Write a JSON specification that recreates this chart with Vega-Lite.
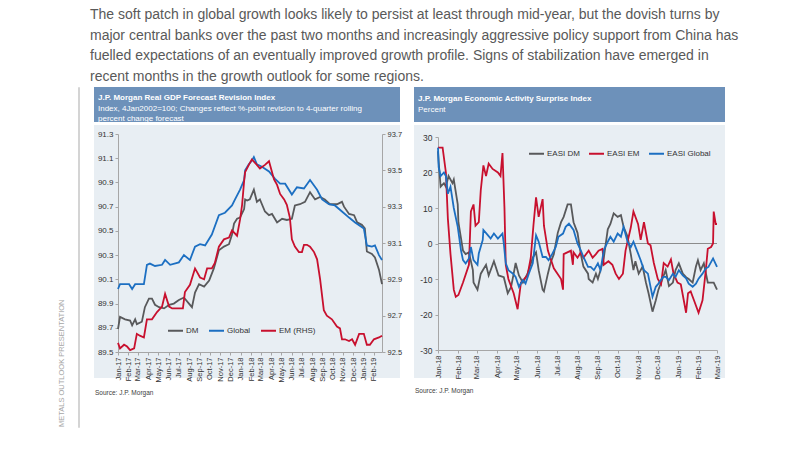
{
  "$schema": "https://vega.github.io/schema/vega-lite/v6.json",
  "background": "white",
  "padding": {"left": 57, "top": 7, "right": 0, "bottom": 0},
  "title": {
    "text": [
      "The soft patch in global growth looks likely to persist at least through mid-year, but the dovish turns by",
      "major central banks over the past two months and increasingly aggressive policy support from China has",
      "fuelled expectations of an eventually improved growth profile. Signs of stabilization have emerged in",
      "recent months in the growth outlook for some regions."
    ],
    "anchor": "start",
    "frame": "group",
    "dx": 12,
    "offset": 2,
    "font": "Liberation Sans",
    "fontSize": 14,
    "fontWeight": "normal",
    "color": "#595959",
    "lineHeight": 20.7
  },
  "datasets": {
    "gdp": [
      {"s":"DM","d":"2017-01-01","v":89.69},{"s":"DM","d":"2017-01-07","v":89.79},{"s":"DM","d":"2017-01-22","v":89.77},{"s":"DM","d":"2017-02-06","v":89.76},{"s":"DM","d":"2017-02-12","v":89.72},{"s":"DM","d":"2017-02-21","v":89.77},{"s":"DM","d":"2017-02-26","v":89.73},{"s":"DM","d":"2017-03-13","v":89.75},{"s":"DM","d":"2017-03-22","v":89.87},{"s":"DM","d":"2017-04-03","v":89.94},{"s":"DM","d":"2017-04-12","v":89.94},{"s":"DM","d":"2017-04-21","v":89.89},{"s":"DM","d":"2017-05-03","v":89.87},{"s":"DM","d":"2017-05-18","v":89.86},{"s":"DM","d":"2017-06-02","v":89.89},{"s":"DM","d":"2017-06-16","v":89.90},{"s":"DM","d":"2017-07-01","v":89.93},{"s":"DM","d":"2017-07-16","v":89.95},{"s":"DM","d":"2017-07-31","v":89.90},{"s":"DM","d":"2017-08-09","v":89.87},{"s":"DM","d":"2017-08-18","v":89.99},{"s":"DM","d":"2017-08-30","v":90.06},{"s":"DM","d":"2017-09-14","v":90.04},{"s":"DM","d":"2017-09-29","v":90.09},{"s":"DM","d":"2017-10-13","v":90.19},{"s":"DM","d":"2017-10-28","v":90.34},{"s":"DM","d":"2017-11-12","v":90.37},{"s":"DM","d":"2017-11-27","v":90.39},{"s":"DM","d":"2017-12-06","v":90.47},{"s":"DM","d":"2017-12-12","v":90.56},{"s":"DM","d":"2017-12-21","v":90.60},{"s":"DM","d":"2017-12-30","v":90.61},{"s":"DM","d":"2018-01-11","v":90.68},{"s":"DM","d":"2018-01-14","v":90.76},{"s":"DM","d":"2018-01-20","v":90.75},{"s":"DM","d":"2018-01-28","v":90.76},{"s":"DM","d":"2018-02-09","v":90.84},{"s":"DM","d":"2018-02-18","v":90.74},{"s":"DM","d":"2018-02-27","v":90.76},{"s":"DM","d":"2018-03-14","v":90.66},{"s":"DM","d":"2018-03-26","v":90.63},{"s":"DM","d":"2018-04-04","v":90.64},{"s":"DM","d":"2018-04-19","v":90.57},{"s":"DM","d":"2018-05-04","v":90.60},{"s":"DM","d":"2018-05-18","v":90.59},{"s":"DM","d":"2018-06-02","v":90.60},{"s":"DM","d":"2018-06-11","v":90.71},{"s":"DM","d":"2018-06-26","v":90.72},{"s":"DM","d":"2018-07-11","v":90.74},{"s":"DM","d":"2018-07-26","v":90.82},{"s":"DM","d":"2018-08-10","v":90.76},{"s":"DM","d":"2018-08-25","v":90.78},{"s":"DM","d":"2018-09-08","v":90.76},{"s":"DM","d":"2018-09-23","v":90.72},{"s":"DM","d":"2018-10-14","v":90.72},{"s":"DM","d":"2018-10-29","v":90.74},{"s":"DM","d":"2018-11-04","v":90.70},{"s":"DM","d":"2018-11-19","v":90.64},{"s":"DM","d":"2018-12-04","v":90.63},{"s":"DM","d":"2018-12-13","v":90.57},{"s":"DM","d":"2018-12-27","v":90.55},{"s":"DM","d":"2019-01-05","v":90.52},{"s":"DM","d":"2019-01-11","v":90.33},{"s":"DM","d":"2019-01-26","v":90.31},{"s":"DM","d":"2019-02-04","v":90.28},{"s":"DM","d":"2019-02-16","v":90.18},{"s":"DM","d":"2019-02-25","v":90.06},
      {"s":"Global","d":"2017-01-01","v":90.02},{"s":"Global","d":"2017-01-07","v":90.06},{"s":"Global","d":"2017-02-03","v":90.06},{"s":"Global","d":"2017-02-12","v":90.02},{"s":"Global","d":"2017-02-21","v":90.06},{"s":"Global","d":"2017-03-19","v":90.06},{"s":"Global","d":"2017-03-28","v":90.22},{"s":"Global","d":"2017-04-06","v":90.23},{"s":"Global","d":"2017-04-21","v":90.21},{"s":"Global","d":"2017-05-12","v":90.22},{"s":"Global","d":"2017-05-21","v":90.26},{"s":"Global","d":"2017-06-05","v":90.22},{"s":"Global","d":"2017-07-01","v":90.24},{"s":"Global","d":"2017-07-16","v":90.30},{"s":"Global","d":"2017-08-03","v":90.26},{"s":"Global","d":"2017-08-18","v":90.37},{"s":"Global","d":"2017-09-02","v":90.39},{"s":"Global","d":"2017-09-17","v":90.38},{"s":"Global","d":"2017-10-07","v":90.47},{"s":"Global","d":"2017-10-28","v":90.63},{"s":"Global","d":"2017-11-15","v":90.65},{"s":"Global","d":"2017-12-06","v":90.71},{"s":"Global","d":"2017-12-15","v":90.76},{"s":"Global","d":"2017-12-30","v":90.84},{"s":"Global","d":"2018-01-11","v":90.92},{"s":"Global","d":"2018-01-14","v":91.00},{"s":"Global","d":"2018-01-25","v":91.05},{"s":"Global","d":"2018-02-03","v":91.08},{"s":"Global","d":"2018-02-09","v":91.11},{"s":"Global","d":"2018-02-18","v":91.05},{"s":"Global","d":"2018-03-05","v":91.03},{"s":"Global","d":"2018-03-26","v":90.99},{"s":"Global","d":"2018-04-13","v":90.93},{"s":"Global","d":"2018-04-28","v":90.89},{"s":"Global","d":"2018-05-13","v":90.89},{"s":"Global","d":"2018-06-02","v":90.80},{"s":"Global","d":"2018-06-17","v":90.86},{"s":"Global","d":"2018-07-08","v":90.85},{"s":"Global","d":"2018-07-26","v":90.92},{"s":"Global","d":"2018-08-16","v":90.84},{"s":"Global","d":"2018-08-31","v":90.76},{"s":"Global","d":"2018-09-20","v":90.72},{"s":"Global","d":"2018-10-08","v":90.71},{"s":"Global","d":"2018-10-29","v":90.66},{"s":"Global","d":"2018-11-19","v":90.61},{"s":"Global","d":"2018-12-07","v":90.57},{"s":"Global","d":"2019-01-02","v":90.52},{"s":"Global","d":"2019-01-11","v":90.38},{"s":"Global","d":"2019-01-26","v":90.37},{"s":"Global","d":"2019-02-04","v":90.38},{"s":"Global","d":"2019-02-16","v":90.30},{"s":"Global","d":"2019-02-25","v":90.26},
      {"s":"EM (RHS)","d":"2017-01-01","v":92.55},{"s":"EM (RHS)","d":"2017-01-07","v":92.52},{"s":"EM (RHS)","d":"2017-01-19","v":92.54},{"s":"EM (RHS)","d":"2017-01-28","v":92.53},{"s":"EM (RHS)","d":"2017-02-06","v":92.51},{"s":"EM (RHS)","d":"2017-02-18","v":92.52},{"s":"EM (RHS)","d":"2017-02-26","v":92.60},{"s":"EM (RHS)","d":"2017-03-07","v":92.59},{"s":"EM (RHS)","d":"2017-03-19","v":92.58},{"s":"EM (RHS)","d":"2017-03-28","v":92.68},{"s":"EM (RHS)","d":"2017-04-12","v":92.68},{"s":"EM (RHS)","d":"2017-04-27","v":92.72},{"s":"EM (RHS)","d":"2017-05-12","v":92.75},{"s":"EM (RHS)","d":"2017-05-21","v":92.82},{"s":"EM (RHS)","d":"2017-06-02","v":92.75},{"s":"EM (RHS)","d":"2017-06-11","v":92.74},{"s":"EM (RHS)","d":"2017-07-01","v":92.74},{"s":"EM (RHS)","d":"2017-07-13","v":92.74},{"s":"EM (RHS)","d":"2017-07-19","v":92.83},{"s":"EM (RHS)","d":"2017-08-03","v":92.87},{"s":"EM (RHS)","d":"2017-08-18","v":92.96},{"s":"EM (RHS)","d":"2017-09-02","v":92.91},{"s":"EM (RHS)","d":"2017-09-14","v":92.90},{"s":"EM (RHS)","d":"2017-09-23","v":92.96},{"s":"EM (RHS)","d":"2017-10-07","v":92.96},{"s":"EM (RHS)","d":"2017-10-16","v":92.99},{"s":"EM (RHS)","d":"2017-10-28","v":93.08},{"s":"EM (RHS)","d":"2017-11-12","v":93.12},{"s":"EM (RHS)","d":"2017-11-27","v":93.13},{"s":"EM (RHS)","d":"2017-12-06","v":93.17},{"s":"EM (RHS)","d":"2017-12-21","v":93.14},{"s":"EM (RHS)","d":"2017-12-30","v":93.23},{"s":"EM (RHS)","d":"2018-01-05","v":93.31},{"s":"EM (RHS)","d":"2018-01-11","v":93.44},{"s":"EM (RHS)","d":"2018-01-14","v":93.49},{"s":"EM (RHS)","d":"2018-01-25","v":93.53},{"s":"EM (RHS)","d":"2018-02-03","v":93.56},{"s":"EM (RHS)","d":"2018-02-18","v":93.53},{"s":"EM (RHS)","d":"2018-02-27","v":93.51},{"s":"EM (RHS)","d":"2018-03-14","v":93.53},{"s":"EM (RHS)","d":"2018-03-26","v":93.55},{"s":"EM (RHS)","d":"2018-04-10","v":93.45},{"s":"EM (RHS)","d":"2018-04-19","v":93.42},{"s":"EM (RHS)","d":"2018-04-28","v":93.37},{"s":"EM (RHS)","d":"2018-05-10","v":93.34},{"s":"EM (RHS)","d":"2018-05-18","v":93.31},{"s":"EM (RHS)","d":"2018-05-27","v":93.24},{"s":"EM (RHS)","d":"2018-06-02","v":93.12},{"s":"EM (RHS)","d":"2018-06-11","v":93.08},{"s":"EM (RHS)","d":"2018-06-23","v":93.05},{"s":"EM (RHS)","d":"2018-07-02","v":93.05},{"s":"EM (RHS)","d":"2018-07-08","v":93.09},{"s":"EM (RHS)","d":"2018-07-17","v":93.09},{"s":"EM (RHS)","d":"2018-07-26","v":93.08},{"s":"EM (RHS)","d":"2018-08-07","v":93.05},{"s":"EM (RHS)","d":"2018-08-16","v":93.01},{"s":"EM (RHS)","d":"2018-08-25","v":92.90},{"s":"EM (RHS)","d":"2018-09-05","v":92.73},{"s":"EM (RHS)","d":"2018-09-14","v":92.70},{"s":"EM (RHS)","d":"2018-09-29","v":92.68},{"s":"EM (RHS)","d":"2018-10-14","v":92.64},{"s":"EM (RHS)","d":"2018-10-23","v":92.63},{"s":"EM (RHS)","d":"2018-10-29","v":92.57},{"s":"EM (RHS)","d":"2018-11-07","v":92.57},{"s":"EM (RHS)","d":"2018-11-19","v":92.56},{"s":"EM (RHS)","d":"2018-11-28","v":92.57},{"s":"EM (RHS)","d":"2018-12-07","v":92.54},{"s":"EM (RHS)","d":"2018-12-19","v":92.60},{"s":"EM (RHS)","d":"2019-01-02","v":92.60},{"s":"EM (RHS)","d":"2019-01-11","v":92.54},{"s":"EM (RHS)","d":"2019-01-20","v":92.54},{"s":"EM (RHS)","d":"2019-02-01","v":92.57},{"s":"EM (RHS)","d":"2019-02-16","v":92.58},{"s":"EM (RHS)","d":"2019-02-25","v":92.59}
    ],
    "easi": [
      {"s":"EASI DM","d":"2018-01-01","v":26},{"s":"EASI DM","d":"2018-01-02","v":23},{"s":"EASI DM","d":"2018-01-05","v":16},{"s":"EASI DM","d":"2018-01-10","v":17},{"s":"EASI DM","d":"2018-01-13","v":16},{"s":"EASI DM","d":"2018-01-17","v":19},{"s":"EASI DM","d":"2018-01-23","v":17},{"s":"EASI DM","d":"2018-01-25","v":18},{"s":"EASI DM","d":"2018-01-31","v":11},{"s":"EASI DM","d":"2018-02-01","v":6},{"s":"EASI DM","d":"2018-02-08","v":-2},{"s":"EASI DM","d":"2018-02-12","v":-3},{"s":"EASI DM","d":"2018-02-17","v":-2.5},{"s":"EASI DM","d":"2018-02-23","v":-7.5},{"s":"EASI DM","d":"2018-02-24","v":-11},{"s":"EASI DM","d":"2018-03-02","v":-13},{"s":"EASI DM","d":"2018-03-07","v":-8.5},{"s":"EASI DM","d":"2018-03-15","v":-6},{"s":"EASI DM","d":"2018-03-19","v":-9},{"s":"EASI DM","d":"2018-03-27","v":-5},{"s":"EASI DM","d":"2018-04-03","v":-9},{"s":"EASI DM","d":"2018-04-11","v":-9.5},{"s":"EASI DM","d":"2018-04-17","v":-14},{"s":"EASI DM","d":"2018-04-22","v":-12.3},{"s":"EASI DM","d":"2018-04-26","v":-8.5},{"s":"EASI DM","d":"2018-04-29","v":-5.5},{"s":"EASI DM","d":"2018-05-04","v":-9},{"s":"EASI DM","d":"2018-05-10","v":-11},{"s":"EASI DM","d":"2018-05-17","v":-8.5},{"s":"EASI DM","d":"2018-05-25","v":-4},{"s":"EASI DM","d":"2018-05-30","v":-2.5},{"s":"EASI DM","d":"2018-06-03","v":-7.5},{"s":"EASI DM","d":"2018-06-09","v":-13},{"s":"EASI DM","d":"2018-06-11","v":-13.5},{"s":"EASI DM","d":"2018-06-17","v":-8.5},{"s":"EASI DM","d":"2018-06-21","v":-5.5},{"s":"EASI DM","d":"2018-06-26","v":-3},{"s":"EASI DM","d":"2018-07-02","v":3},{"s":"EASI DM","d":"2018-07-07","v":6},{"s":"EASI DM","d":"2018-07-11","v":7.5},{"s":"EASI DM","d":"2018-07-17","v":11},{"s":"EASI DM","d":"2018-07-22","v":11},{"s":"EASI DM","d":"2018-07-26","v":6},{"s":"EASI DM","d":"2018-08-01","v":3},{"s":"EASI DM","d":"2018-08-06","v":-3},{"s":"EASI DM","d":"2018-08-10","v":-6.5},{"s":"EASI DM","d":"2018-08-17","v":-8.5},{"s":"EASI DM","d":"2018-08-18","v":-10},{"s":"EASI DM","d":"2018-08-24","v":-11},{"s":"EASI DM","d":"2018-08-29","v":-8.5},{"s":"EASI DM","d":"2018-09-01","v":-10},{"s":"EASI DM","d":"2018-09-05","v":-7.5},{"s":"EASI DM","d":"2018-09-10","v":-4},{"s":"EASI DM","d":"2018-09-16","v":4},{"s":"EASI DM","d":"2018-09-20","v":5.5},{"s":"EASI DM","d":"2018-09-25","v":8.5},{"s":"EASI DM","d":"2018-10-01","v":7.5},{"s":"EASI DM","d":"2018-10-06","v":8},{"s":"EASI DM","d":"2018-10-10","v":4.7},{"s":"EASI DM","d":"2018-10-16","v":2},{"s":"EASI DM","d":"2018-10-21","v":-3},{"s":"EASI DM","d":"2018-10-25","v":-7.5},{"s":"EASI DM","d":"2018-10-28","v":-5},{"s":"EASI DM","d":"2018-11-02","v":-8.5},{"s":"EASI DM","d":"2018-11-08","v":-6.5},{"s":"EASI DM","d":"2018-11-13","v":-11},{"s":"EASI DM","d":"2018-11-17","v":-14},{"s":"EASI DM","d":"2018-11-23","v":-19.2},{"s":"EASI DM","d":"2018-11-28","v":-16},{"s":"EASI DM","d":"2018-12-02","v":-13},{"s":"EASI DM","d":"2018-12-09","v":-9.5},{"s":"EASI DM","d":"2018-12-13","v":-7.5},{"s":"EASI DM","d":"2018-12-18","v":-12},{"s":"EASI DM","d":"2018-12-24","v":-11},{"s":"EASI DM","d":"2018-12-28","v":-7.5},{"s":"EASI DM","d":"2019-01-02","v":-5.6},{"s":"EASI DM","d":"2019-01-08","v":-8.5},{"s":"EASI DM","d":"2019-01-13","v":-9.5},{"s":"EASI DM","d":"2019-01-17","v":-10},{"s":"EASI DM","d":"2019-01-23","v":-11},{"s":"EASI DM","d":"2019-01-28","v":-6.5},{"s":"EASI DM","d":"2019-01-31","v":-4.7},{"s":"EASI DM","d":"2019-02-04","v":-7.5},{"s":"EASI DM","d":"2019-02-09","v":-5.6},{"s":"EASI DM","d":"2019-02-15","v":-11},{"s":"EASI DM","d":"2019-02-20","v":-11},{"s":"EASI DM","d":"2019-02-24","v":-11},{"s":"EASI DM","d":"2019-03-01","v":-13},
      {"s":"EASI EM","d":"2018-01-01","v":27},{"s":"EASI EM","d":"2018-01-08","v":27},{"s":"EASI EM","d":"2018-01-13","v":20},{"s":"EASI EM","d":"2018-01-16","v":7},{"s":"EASI EM","d":"2018-01-20","v":-3},{"s":"EASI EM","d":"2018-01-25","v":-13},{"s":"EASI EM","d":"2018-01-28","v":-15},{"s":"EASI EM","d":"2018-02-01","v":-14.5},{"s":"EASI EM","d":"2018-02-08","v":-11},{"s":"EASI EM","d":"2018-02-17","v":-6},{"s":"EASI EM","d":"2018-02-20","v":9},{"s":"EASI EM","d":"2018-02-24","v":11},{"s":"EASI EM","d":"2018-02-27","v":5},{"s":"EASI EM","d":"2018-03-04","v":6},{"s":"EASI EM","d":"2018-03-07","v":15},{"s":"EASI EM","d":"2018-03-11","v":22},{"s":"EASI EM","d":"2018-03-15","v":19},{"s":"EASI EM","d":"2018-03-19","v":22.5},{"s":"EASI EM","d":"2018-03-25","v":21},{"s":"EASI EM","d":"2018-04-02","v":20},{"s":"EASI EM","d":"2018-04-06","v":19},{"s":"EASI EM","d":"2018-04-09","v":25.5},{"s":"EASI EM","d":"2018-04-12","v":10},{"s":"EASI EM","d":"2018-04-14","v":-6},{"s":"EASI EM","d":"2018-04-18","v":-10},{"s":"EASI EM","d":"2018-04-26","v":-14},{"s":"EASI EM","d":"2018-05-02","v":-18.5},{"s":"EASI EM","d":"2018-05-07","v":-11},{"s":"EASI EM","d":"2018-05-17","v":-9},{"s":"EASI EM","d":"2018-05-22","v":-4},{"s":"EASI EM","d":"2018-05-26","v":5},{"s":"EASI EM","d":"2018-05-30","v":13},{"s":"EASI EM","d":"2018-06-03","v":7.5},{"s":"EASI EM","d":"2018-06-09","v":12.5},{"s":"EASI EM","d":"2018-06-11","v":5},{"s":"EASI EM","d":"2018-06-17","v":-2},{"s":"EASI EM","d":"2018-06-26","v":-7},{"s":"EASI EM","d":"2018-07-07","v":-10},{"s":"EASI EM","d":"2018-07-10","v":-13},{"s":"EASI EM","d":"2018-07-11","v":-3},{"s":"EASI EM","d":"2018-07-22","v":-2},{"s":"EASI EM","d":"2018-07-25","v":-6},{"s":"EASI EM","d":"2018-07-26","v":-2.5},{"s":"EASI EM","d":"2018-08-01","v":-4},{"s":"EASI EM","d":"2018-08-06","v":-2.5},{"s":"EASI EM","d":"2018-08-10","v":-4},{"s":"EASI EM","d":"2018-08-18","v":-2},{"s":"EASI EM","d":"2018-08-24","v":-4},{"s":"EASI EM","d":"2018-08-29","v":-3},{"s":"EASI EM","d":"2018-09-02","v":-2},{"s":"EASI EM","d":"2018-09-08","v":-1.5},{"s":"EASI EM","d":"2018-09-10","v":-6},{"s":"EASI EM","d":"2018-09-17","v":-5},{"s":"EASI EM","d":"2018-09-23","v":-6},{"s":"EASI EM","d":"2018-09-28","v":-8.5},{"s":"EASI EM","d":"2018-10-03","v":-10},{"s":"EASI EM","d":"2018-10-09","v":-8.5},{"s":"EASI EM","d":"2018-10-13","v":-2},{"s":"EASI EM","d":"2018-10-21","v":4.5},{"s":"EASI EM","d":"2018-10-25","v":9},{"s":"EASI EM","d":"2018-11-01","v":5.5},{"s":"EASI EM","d":"2018-11-05","v":1},{"s":"EASI EM","d":"2018-11-10","v":6},{"s":"EASI EM","d":"2018-11-16","v":0},{"s":"EASI EM","d":"2018-11-20","v":-0.5},{"s":"EASI EM","d":"2018-11-25","v":-5.5},{"s":"EASI EM","d":"2018-12-01","v":-10},{"s":"EASI EM","d":"2018-12-06","v":-11.5},{"s":"EASI EM","d":"2018-12-10","v":-5.5},{"s":"EASI EM","d":"2018-12-16","v":-6.5},{"s":"EASI EM","d":"2018-12-21","v":-4.5},{"s":"EASI EM","d":"2018-12-25","v":-8.5},{"s":"EASI EM","d":"2018-12-31","v":-11},{"s":"EASI EM","d":"2019-01-05","v":-11.5},{"s":"EASI EM","d":"2019-01-13","v":-19.5},{"s":"EASI EM","d":"2019-01-16","v":-14},{"s":"EASI EM","d":"2019-01-20","v":-13.5},{"s":"EASI EM","d":"2019-01-25","v":-16},{"s":"EASI EM","d":"2019-02-01","v":-19.5},{"s":"EASI EM","d":"2019-02-07","v":-16},{"s":"EASI EM","d":"2019-02-12","v":-7.5},{"s":"EASI EM","d":"2019-02-15","v":-1.5},{"s":"EASI EM","d":"2019-02-20","v":-1},{"s":"EASI EM","d":"2019-02-23","v":0},{"s":"EASI EM","d":"2019-02-24","v":9},{"s":"EASI EM","d":"2019-02-27","v":5.5},{"s":"EASI EM","d":"2019-03-01","v":5.5},
      {"s":"EASI Global","d":"2018-01-01","v":27},{"s":"EASI Global","d":"2018-01-02","v":21.5},{"s":"EASI Global","d":"2018-01-05","v":19},{"s":"EASI Global","d":"2018-01-10","v":20},{"s":"EASI Global","d":"2018-01-13","v":19},{"s":"EASI Global","d":"2018-01-16","v":14},{"s":"EASI Global","d":"2018-01-20","v":16},{"s":"EASI Global","d":"2018-01-25","v":10},{"s":"EASI Global","d":"2018-01-31","v":4.7},{"s":"EASI Global","d":"2018-02-05","v":-2},{"s":"EASI Global","d":"2018-02-08","v":-4.7},{"s":"EASI Global","d":"2018-02-12","v":-5.6},{"s":"EASI Global","d":"2018-02-17","v":-4.2},{"s":"EASI Global","d":"2018-02-20","v":-1},{"s":"EASI Global","d":"2018-02-24","v":-4.7},{"s":"EASI Global","d":"2018-03-02","v":-6},{"s":"EASI Global","d":"2018-03-04","v":-2.8},{"s":"EASI Global","d":"2018-03-10","v":1},{"s":"EASI Global","d":"2018-03-11","v":3.8},{"s":"EASI Global","d":"2018-03-18","v":2.3},{"s":"EASI Global","d":"2018-03-22","v":1.4},{"s":"EASI Global","d":"2018-03-27","v":2.8},{"s":"EASI Global","d":"2018-04-02","v":1.4},{"s":"EASI Global","d":"2018-04-09","v":2.8},{"s":"EASI Global","d":"2018-04-11","v":0},{"s":"EASI Global","d":"2018-04-14","v":-5.6},{"s":"EASI Global","d":"2018-04-18","v":-7.5},{"s":"EASI Global","d":"2018-04-25","v":-8.5},{"s":"EASI Global","d":"2018-04-29","v":-9.4},{"s":"EASI Global","d":"2018-05-04","v":-12.2},{"s":"EASI Global","d":"2018-05-10","v":-10.3},{"s":"EASI Global","d":"2018-05-14","v":-11.3},{"s":"EASI Global","d":"2018-05-19","v":-8.5},{"s":"EASI Global","d":"2018-05-25","v":-5.6},{"s":"EASI Global","d":"2018-05-30","v":2.3},{"s":"EASI Global","d":"2018-06-03","v":0.5},{"s":"EASI Global","d":"2018-06-09","v":-3.8},{"s":"EASI Global","d":"2018-06-14","v":-3.8},{"s":"EASI Global","d":"2018-06-18","v":-4.7},{"s":"EASI Global","d":"2018-06-24","v":-2.8},{"s":"EASI Global","d":"2018-06-29","v":-1},{"s":"EASI Global","d":"2018-07-03","v":1.9},{"s":"EASI Global","d":"2018-07-10","v":2.8},{"s":"EASI Global","d":"2018-07-14","v":4.7},{"s":"EASI Global","d":"2018-07-19","v":5.6},{"s":"EASI Global","d":"2018-07-26","v":3.8},{"s":"EASI Global","d":"2018-08-01","v":0},{"s":"EASI Global","d":"2018-08-06","v":-1.9},{"s":"EASI Global","d":"2018-08-10","v":-3.8},{"s":"EASI Global","d":"2018-08-17","v":-6.6},{"s":"EASI Global","d":"2018-08-21","v":-6.6},{"s":"EASI Global","d":"2018-08-26","v":-7.5},{"s":"EASI Global","d":"2018-09-01","v":-5.6},{"s":"EASI Global","d":"2018-09-05","v":-7.5},{"s":"EASI Global","d":"2018-09-10","v":-1.9},{"s":"EASI Global","d":"2018-09-16","v":0.5},{"s":"EASI Global","d":"2018-09-20","v":1.9},{"s":"EASI Global","d":"2018-09-25","v":0.5},{"s":"EASI Global","d":"2018-10-01","v":2.8},{"s":"EASI Global","d":"2018-10-06","v":1.9},{"s":"EASI Global","d":"2018-10-10","v":4.7},{"s":"EASI Global","d":"2018-10-16","v":0.5},{"s":"EASI Global","d":"2018-10-21","v":-1},{"s":"EASI Global","d":"2018-10-25","v":0.5},{"s":"EASI Global","d":"2018-11-01","v":-2.8},{"s":"EASI Global","d":"2018-11-05","v":-4.7},{"s":"EASI Global","d":"2018-11-10","v":-7.5},{"s":"EASI Global","d":"2018-11-16","v":-8.5},{"s":"EASI Global","d":"2018-11-20","v":-12.2},{"s":"EASI Global","d":"2018-11-23","v":-15},{"s":"EASI Global","d":"2018-11-28","v":-12.2},{"s":"EASI Global","d":"2018-12-02","v":-11.3},{"s":"EASI Global","d":"2018-12-09","v":-9.4},{"s":"EASI Global","d":"2018-12-13","v":-9.4},{"s":"EASI Global","d":"2018-12-18","v":-10.3},{"s":"EASI Global","d":"2018-12-24","v":-8.5},{"s":"EASI Global","d":"2018-12-28","v":-9.4},{"s":"EASI Global","d":"2019-01-02","v":-7.5},{"s":"EASI Global","d":"2019-01-08","v":-9},{"s":"EASI Global","d":"2019-01-13","v":-9.8},{"s":"EASI Global","d":"2019-01-17","v":-11.3},{"s":"EASI Global","d":"2019-01-23","v":-12.2},{"s":"EASI Global","d":"2019-01-28","v":-11.3},{"s":"EASI Global","d":"2019-02-01","v":-9.9},{"s":"EASI Global","d":"2019-02-07","v":-8.5},{"s":"EASI Global","d":"2019-02-12","v":-7},{"s":"EASI Global","d":"2019-02-16","v":-6.6},{"s":"EASI Global","d":"2019-02-23","v":-4.2},{"s":"EASI Global","d":"2019-03-01","v":-6.6}
    ]
  },
  "hconcat": [
    {
      "width": 1,
      "height": 340,
      "view": {"stroke": "#d4d4d4", "strokeWidth": 1, "fill": null},
      "title": {"text": "METALS OUTLOOK PRESENTATION", "orient": "left", "anchor": "start", "frame": "group", "offset": 12, "fontSize": 7.5, "fontWeight": "normal", "color": "#a6a6a6", "font": "Liberation Sans"},
      "data": {"values": [{"a": 1}]},
      "mark": {"type": "rule", "strokeOpacity": 0},
      "encoding": {}
    },
    {
      "spacing": 11,
      "resolve": {"scale": {"color": "independent"}, "legend": {"color": "independent"}},
      "hconcat": [
        {
          "spacing": 3,
          "bounds": "flush",
          "vconcat": [
            {
              "width": 306,
              "height": 35,
              "view": {"fill": "#6d91ba", "stroke": null},
              "title": {
                "text": "J.P. Morgan Real GDP Forecast Revision Index",
                "subtitle": ["Index, 4Jan2002=100; Changes reflect %-point revision to 4-quarter rolling", "percent change forecast"],
                "anchor": "start", "frame": "group", "orient": "top", "offset": -36, "dx": 4,
                "font": "Liberation Sans", "fontSize": 8, "fontWeight": "bold", "color": "#ffffff",
                "subtitleFont": "Liberation Sans", "subtitleFontSize": 8, "subtitleColor": "#ffffff", "subtitleLineHeight": 9.5, "subtitlePadding": 3
              },
              "data": {"values": [{"a": 1}]},
              "mark": {"type": "rule", "strokeOpacity": 0},
              "encoding": {}
            },
            {
              "width": 306,
              "height": 253,
              "view": {"fill": "#e8eef3", "stroke": null},
              "title": {"text": "Source: J.P. Morgan", "orient": "bottom", "anchor": "start", "frame": "group", "offset": 8, "dx": 1, "font": "Liberation Sans", "fontSize": 6.5, "fontWeight": "normal", "color": "#404040"},
              "data": {"name": "gdp"},
              "encoding": {
                "x": {
                  "field": "d", "type": "temporal",
                  "scale": {"domain": [{"year": 2017, "month": 1, "date": 1}, {"year": 2019, "month": 2, "date": 25}], "range": [24, 288]},
                  "axis": {"orient": "bottom", "offset": -26, "format": "%b-%y", "tickCount": {"interval": "month", "step": 1}, "labelAngle": -90, "labelFontSize": 7.5, "labelColor": "#333333", "labelPadding": 2, "labelOverlap": false, "labelFlush": false, "tickSize": 3, "tickColor": "#a6a6a6", "domainColor": "#a6a6a6", "grid": false, "title": null}
                },
                "color": {
                  "field": "s", "type": "nominal",
                  "scale": {"domain": ["DM", "Global", "EM (RHS)"], "range": ["#58595b", "#1c6fc2", "#c8102e"]},
                  "legend": {"orient": "none", "legendX": 73, "legendY": 235, "direction": "horizontal", "title": null, "symbolType": "stroke", "symbolSize": 225, "symbolStrokeWidth": 2, "labelFontSize": 8, "labelColor": "#333333", "labelFont": "Liberation Sans", "columnPadding": 6, "labelOffset": 2}
                }
              },
              "layer": [
                {
                  "transform": [{"filter": "datum.s != 'EM (RHS)'"}],
                  "mark": {"type": "line", "strokeWidth": 1.8},
                  "encoding": {
                    "y": {
                      "field": "v", "type": "quantitative",
                      "scale": {"domain": [89.5, 91.3], "range": [227, 9], "nice": false, "zero": false},
                      "axis": {"orient": "left", "offset": -24, "values": [89.5, 89.7, 89.9, 90.1, 90.3, 90.5, 90.7, 90.9, 91.1, 91.3], "format": ".1f", "labelFontSize": 8, "labelColor": "#333333", "labelPadding": 2, "tickSize": 3, "tickColor": "#a6a6a6", "domainColor": "#a6a6a6", "grid": false, "title": null}
                    }
                  }
                },
                {
                  "transform": [{"filter": "datum.s == 'EM (RHS)'"}],
                  "mark": {"type": "line", "strokeWidth": 1.8},
                  "encoding": {
                    "y": {
                      "field": "v", "type": "quantitative",
                      "scale": {"domain": [92.5, 93.7], "range": [227, 9], "nice": false, "zero": false},
                      "axis": {"orient": "right", "offset": -18, "values": [92.5, 92.7, 92.9, 93.1, 93.3, 93.5, 93.7], "format": ".1f", "labelFontSize": 7.5, "labelColor": "#333333", "labelPadding": 2, "tickSize": 3, "tickColor": "#a6a6a6", "domainColor": "#a6a6a6", "grid": false, "title": null}
                    }
                  }
                }
              ],
              "resolve": {"scale": {"y": "independent"}}
            }
          ]
        },
        {
          "spacing": 3,
          "bounds": "flush",
          "vconcat": [
            {
              "width": 311,
              "height": 35,
              "view": {"fill": "#6d91ba", "stroke": null},
              "title": {
                "text": "J.P. Morgan Economic Activity Surprise Index",
                "subtitle": ["Percent"],
                "anchor": "start", "frame": "group", "orient": "top", "offset": -27, "dx": 4,
                "font": "Liberation Sans", "fontSize": 8, "fontWeight": "bold", "color": "#ffffff",
                "subtitleFont": "Liberation Sans", "subtitleFontSize": 8, "subtitleColor": "#ffffff", "subtitleLineHeight": 9.5, "subtitlePadding": 3
              },
              "data": {"values": [{"a": 1}]},
              "mark": {"type": "rule", "strokeOpacity": 0},
              "encoding": {}
            },
            {
              "width": 311,
              "height": 253,
              "view": {"fill": "#e8eef3", "stroke": null},
              "title": {"text": "Source: J.P. Morgan", "orient": "bottom", "anchor": "start", "frame": "group", "offset": 8, "dx": 1, "font": "Liberation Sans", "fontSize": 6.5, "fontWeight": "normal", "color": "#404040"},
              "layer": [
                {
                  "data": {"values": [{"a": 1}]},
                  "mark": {"type": "rule", "color": "#8c8c8c", "strokeWidth": 1},
                  "encoding": {
                    "y": {"datum": 0, "type": "quantitative"},
                    "x": {"datum": {"year": 2018, "month": 1, "date": 1}, "type": "temporal"},
                    "x2": {"datum": {"year": 2019, "month": 3, "date": 1}}
                  }
                },
                {
                  "data": {"name": "easi"},
                  "mark": {"type": "line", "strokeWidth": 1.8},
                  "encoding": {
                    "x": {
                      "field": "d", "type": "temporal",
                      "scale": {"domain": [{"year": 2018, "month": 1, "date": 1}, {"year": 2019, "month": 3, "date": 1}], "range": [24, 303]},
                      "axis": {"orient": "bottom", "offset": -28, "format": "%b-%y", "tickCount": {"interval": "month", "step": 1}, "labelAngle": -90, "labelFontSize": 7.5, "labelColor": "#333333", "labelPadding": 2, "labelOverlap": false, "labelFlush": false, "tickSize": 3, "tickColor": "#a6a6a6", "domainColor": "#a6a6a6", "grid": false, "title": null}
                    },
                    "y": {
                      "field": "v", "type": "quantitative",
                      "scale": {"domain": [-30, 30], "range": [225, 12], "nice": false, "zero": false},
                      "axis": {"orient": "left", "offset": -24, "values": [-30, -20, -10, 0, 10, 20, 30], "labelExpr": "datum.value < 0 ? '-' + abs(datum.value) : '' + datum.value", "labelFontSize": 8.5, "labelColor": "#333333", "labelPadding": 3, "tickSize": 3, "tickColor": "#a6a6a6", "domainColor": "#a6a6a6", "grid": false, "title": null}
                    },
                    "color": {
                      "field": "s", "type": "nominal",
                      "scale": {"domain": ["EASI DM", "EASI EM", "EASI Global"], "range": ["#58595b", "#c8102e", "#1c6fc2"]},
                      "legend": {"orient": "none", "legendX": 114, "legendY": 58, "direction": "horizontal", "title": null, "symbolType": "stroke", "symbolSize": 225, "symbolStrokeWidth": 2, "labelFontSize": 8, "labelColor": "#333333", "labelFont": "Liberation Sans", "columnPadding": 5, "labelOffset": 2}
                    }
                  }
                }
              ]
            }
          ]
        }
      ]
    }
  ],
  "spacing": 13,
  "resolve": {"scale": {"color": "independent"}, "legend": {"color": "independent"}},
  "config": {
    "font": "Liberation Sans",
    "view": {"stroke": null}
  }
}
